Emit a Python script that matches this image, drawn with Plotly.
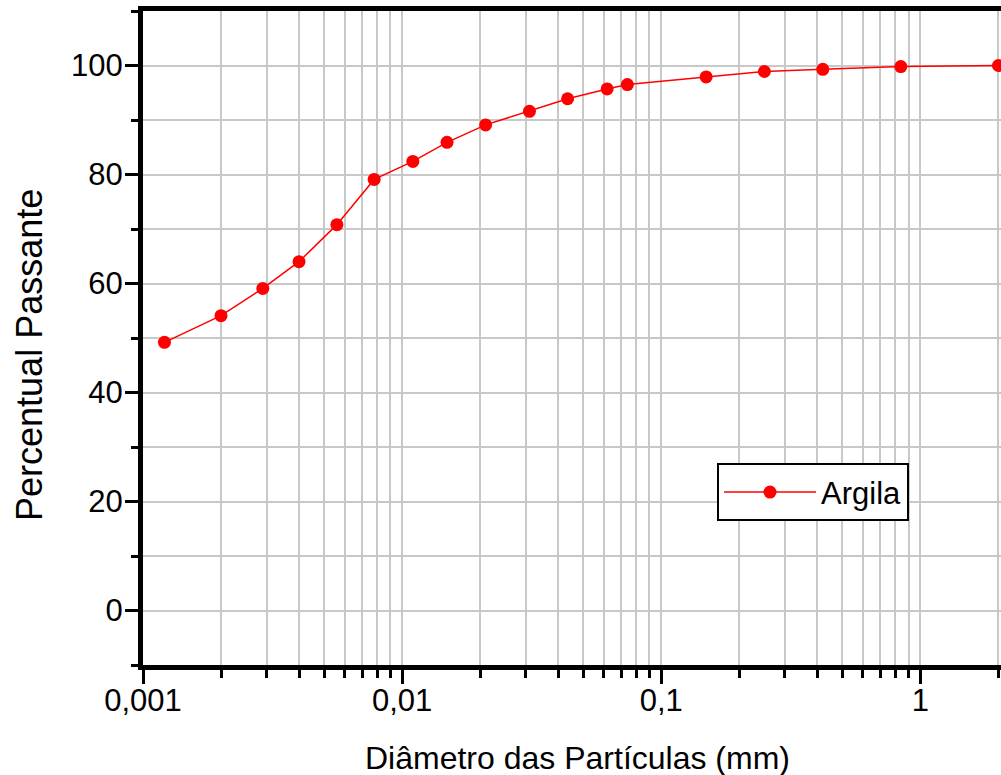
import plotly.graph_objects as go

# Data
diametro_mm = [0.00121, 0.0020, 0.0029, 0.0040, 0.0056, 0.0078, 0.0110, 0.0149,
               0.0210, 0.0310, 0.0435, 0.0618, 0.074, 0.149, 0.25, 0.42, 0.84, 2.0]
percentual_passante = [49.2, 54.1, 59.1, 64.0, 70.8, 79.1, 82.4, 85.9,
                       89.1, 91.6, 93.9, 95.7, 96.5, 97.9, 98.9, 99.3, 99.8, 100.0]
series_name = "Argila"

x_tickvals = [0.001, 0.01, 0.1, 1]
x_ticktext = ["0,001", "0,01", "0,1", "1"]
y_tickvals = [0, 20, 40, 60, 80, 100]
y_ticktext = ["0", "20", "40", "60", "80", "100"]

x_title = "Diâmetro das Partículas (mm)"
y_title = "Percentual Passante"

FONT = "Liberation Sans, Arial, sans-serif"
GRID = "#c8c8c8"

fig = go.Figure()
fig.add_trace(go.Scatter(
    x=diametro_mm, y=percentual_passante, name=series_name,
    mode="lines+markers",
    line=dict(color="#ff0000", width=1.5),
    marker=dict(color="#ff0000", size=13, symbol="circle"),
    showlegend=True,
))

fig.update_layout(
    width=1001, height=775,
    margin=dict(l=143, r=0, t=11, b=110, autoexpand=False),
    paper_bgcolor="white", plot_bgcolor="white",
    font=dict(family=FONT, color="#000000", size=31),
    showlegend=True,
    legend=dict(
        x=0.669, y=0.2638, xanchor="left", yanchor="middle",
        bgcolor="white", bordercolor="#000000", borderwidth=2,
        font=dict(family=FONT, size=31, color="#000000"),
        itemwidth=92,
    ),
    annotations=[
        dict(text=x_title, xref="paper", yref="paper", x=0.5064, y=-0.1422,
             xanchor="center", yanchor="middle", showarrow=False,
             font=dict(family=FONT, size=32, color="#000000")),
        dict(text=y_title, xref="paper", yref="paper", x=-0.1329, y=0.474,
             xanchor="center", yanchor="middle", showarrow=False, textangle=-90,
             font=dict(family=FONT, size=36, color="#000000")),
    ],
)

fig.update_xaxes(
    type="log", range=[-3, 0.311], automargin=False,
    tickvals=x_tickvals, ticktext=x_ticktext,
    ticks="outside", ticklen=14, tickwidth=3, tickcolor="#000000",
    ticklabelstandoff=-10,
    showline=True, linewidth=5, linecolor="#000000", mirror=True,
    showgrid=True, gridcolor=GRID, gridwidth=1.5,
    minor=dict(dtick="D1", ticks="outside", ticklen=8, tickwidth=3,
               tickcolor="#000000", showgrid=True, gridcolor=GRID, gridwidth=1.5),
    tickfont=dict(family=FONT, size=31, color="#000000"),
    zeroline=False,
)

fig.update_yaxes(
    range=[-10, 110], automargin=False,
    tickvals=y_tickvals, ticktext=y_ticktext,
    ticks="outside", ticklen=13, tickwidth=3, tickcolor="#000000",
    ticklabelstandoff=-4,
    showline=True, linewidth=5, linecolor="#000000", mirror=False,
    showgrid=True, gridcolor=GRID, gridwidth=1.5,
    minor=dict(dtick=10, tick0=0, ticks="outside", ticklen=7, tickwidth=3,
               tickcolor="#000000", showgrid=True, gridcolor=GRID, gridwidth=1.5),
    tickfont=dict(family=FONT, size=31, color="#000000"),
    zeroline=False,
)

# Remove the default page margin so the 1001x775 figure fills the window exactly
fig.write_html(
    "out.html",
    config={"displayModeBar": False},
    post_script="document.body.style.margin='0';document.body.style.overflow='hidden';",
)
